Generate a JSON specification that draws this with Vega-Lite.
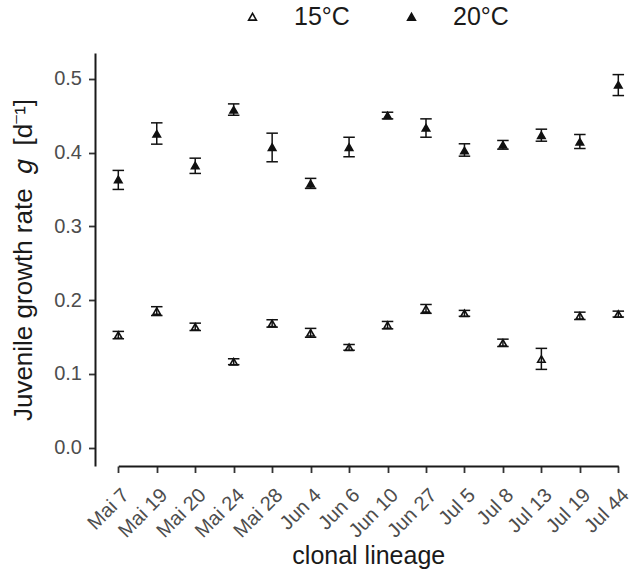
{
  "$schema": "https://vega.github.io/schema/vega-lite/v6.json",
  "autosize": {"type": "none"},
  "padding": {"left": 95, "top": 53, "right": 0, "bottom": 105},
  "width": 543,
  "height": 413,
  "background": "white",
  "config": {
    "view": {"stroke": null},
    "font": "Liberation Sans",
    "axis": {
      "grid": false,
      "domainColor": "#1a1a1a",
      "domainWidth": 2,
      "tickColor": "#333333",
      "tickWidth": 1.8,
      "tickSize": 6.5,
      "labelFont": "Liberation Sans",
      "labelFontSize": 20,
      "labelColor": "#4d4d4d",
      "titleFont": "Liberation Sans",
      "titleFontSize": 26,
      "titleFontWeight": "normal",
      "titleColor": "#1a1a1a"
    },
    "legend": {
      "labelFont": "Liberation Sans",
      "labelFontSize": 25,
      "labelColor": "#1a1a1a"
    }
  },
  "data": {
    "values": [
      {"lineage": "Mai 7", "temp": "15°C", "g": 0.1525, "lo": 0.1475, "hi": 0.1575},
      {"lineage": "Mai 19", "temp": "15°C", "g": 0.185, "lo": 0.179, "hi": 0.191},
      {"lineage": "Mai 20", "temp": "15°C", "g": 0.1637, "lo": 0.1587, "hi": 0.1687},
      {"lineage": "Mai 24", "temp": "15°C", "g": 0.1164, "lo": 0.1124, "hi": 0.1204},
      {"lineage": "Mai 28", "temp": "15°C", "g": 0.1683, "lo": 0.1633, "hi": 0.1733},
      {"lineage": "Jun 4", "temp": "15°C", "g": 0.1556, "lo": 0.1496, "hi": 0.1616},
      {"lineage": "Jun 6", "temp": "15°C", "g": 0.1359, "lo": 0.1319, "hi": 0.1399},
      {"lineage": "Jun 10", "temp": "15°C", "g": 0.166, "lo": 0.161, "hi": 0.171},
      {"lineage": "Jun 27", "temp": "15°C", "g": 0.188, "lo": 0.182, "hi": 0.194},
      {"lineage": "Jul 5", "temp": "15°C", "g": 0.182, "lo": 0.178, "hi": 0.186},
      {"lineage": "Jul 8", "temp": "15°C", "g": 0.142, "lo": 0.137, "hi": 0.147},
      {"lineage": "Jul 13", "temp": "15°C", "g": 0.120, "lo": 0.106, "hi": 0.1345},
      {"lineage": "Jul 19", "temp": "15°C", "g": 0.1786, "lo": 0.1736, "hi": 0.1836},
      {"lineage": "Jul 44", "temp": "15°C", "g": 0.181, "lo": 0.177, "hi": 0.185},
      {"lineage": "Mai 7", "temp": "20°C", "g": 0.3635, "lo": 0.350, "hi": 0.3758},
      {"lineage": "Mai 19", "temp": "20°C", "g": 0.4254, "lo": 0.4114, "hi": 0.4403},
      {"lineage": "Mai 20", "temp": "20°C", "g": 0.3825, "lo": 0.3717, "hi": 0.3924},
      {"lineage": "Mai 24", "temp": "20°C", "g": 0.4579, "lo": 0.4506, "hi": 0.466},
      {"lineage": "Mai 28", "temp": "20°C", "g": 0.4073, "lo": 0.3875, "hi": 0.4263},
      {"lineage": "Jun 4", "temp": "20°C", "g": 0.3578, "lo": 0.3514, "hi": 0.365},
      {"lineage": "Jun 6", "temp": "20°C", "g": 0.4073, "lo": 0.3943, "hi": 0.4208},
      {"lineage": "Jun 10", "temp": "20°C", "g": 0.4502, "lo": 0.4457, "hi": 0.4547},
      {"lineage": "Jun 27", "temp": "20°C", "g": 0.4336, "lo": 0.4208, "hi": 0.4457},
      {"lineage": "Jul 5", "temp": "20°C", "g": 0.4028, "lo": 0.3951, "hi": 0.4119},
      {"lineage": "Jul 8", "temp": "20°C", "g": 0.4106, "lo": 0.4046, "hi": 0.4164},
      {"lineage": "Jul 13", "temp": "20°C", "g": 0.4235, "lo": 0.4154, "hi": 0.4317},
      {"lineage": "Jul 19", "temp": "20°C", "g": 0.4146, "lo": 0.4055, "hi": 0.4245},
      {"lineage": "Jul 44", "temp": "20°C", "g": 0.4918, "lo": 0.4773, "hi": 0.5057}
    ]
  },
  "encoding": {
    "x": {
      "field": "lineage",
      "type": "nominal",
      "sort": null,
      "scale": {"type": "point", "range": [23.3, 523.3], "padding": 0},
      "axis": {
        "title": "clonal lineage",
        "titleFontSize": 25,
        "labelAngle": -45,
        "labelAlign": "right",
        "labelBaseline": "top",
        "labelPadding": 12,
        "labelDx": 3,
        "titlePadding": 2
      }
    }
  },
  "layer": [
    {
      "mark": {"type": "point", "shape": "triangle-up", "size": 55, "stroke": "#111111", "strokeWidth": 1.6, "opacity": 1, "filled": false},
      "encoding": {
        "y": {
          "field": "g",
          "type": "quantitative",
          "scale": {"domain": [-0.025, 0.535], "nice": false, "zero": false},
          "axis": {
            "title": "Juvenile growth rate\u00a0\u00a0𝑔\u00a0\u00a0[d⁻¹]",
            "values": [0, 0.1, 0.2, 0.3, 0.4, 0.5],
            "format": ".1f",
            "labelPadding": 7,
            "titlePadding": 17
          }
        },
        "shape": {
          "field": "temp",
          "type": "nominal",
          "scale": {"domain": ["15°C", "20°C"], "range": ["triangle-up", "triangle-up"]},
          "legend": {
            "title": null,
            "orient": "none",
            "direction": "horizontal",
            "legendX": 145,
            "legendY": -49,
            "symbolSize": 60,
            "symbolStrokeWidth": 1.6,
            "labelOffset": 29,
            "columnPadding": 49,
            "encode": {"symbols": {"update": {"stroke": {"value": "#111111"}, "strokeWidth": {"value": 1.6}}}}
          }
        },
        "fill": {
          "field": "temp",
          "type": "nominal",
          "scale": {"domain": ["15°C", "20°C"], "range": ["#ffffff", "#111111"]},
          "legend": {
            "title": null,
            "orient": "none",
            "direction": "horizontal",
            "legendX": 145,
            "legendY": -49,
            "symbolSize": 60,
            "symbolStrokeWidth": 1.6,
            "labelOffset": 29,
            "columnPadding": 49,
            "encode": {"symbols": {"update": {"stroke": {"value": "#111111"}, "strokeWidth": {"value": 1.6}}}}
          }
        }
      }
    },
    {
      "mark": {"type": "rule", "color": "#111111", "strokeWidth": 1.5},
      "encoding": {
        "y": {"field": "lo", "type": "quantitative"},
        "y2": {"field": "hi"}
      }
    },
    {
      "mark": {"type": "tick", "color": "#111111", "thickness": 1.5, "size": 11.5, "opacity": 1},
      "encoding": {
        "y": {"field": "lo", "type": "quantitative"}
      }
    },
    {
      "mark": {"type": "tick", "color": "#111111", "thickness": 1.5, "size": 11.5, "opacity": 1},
      "encoding": {
        "y": {"field": "hi", "type": "quantitative"}
      }
    }
  ]
}
